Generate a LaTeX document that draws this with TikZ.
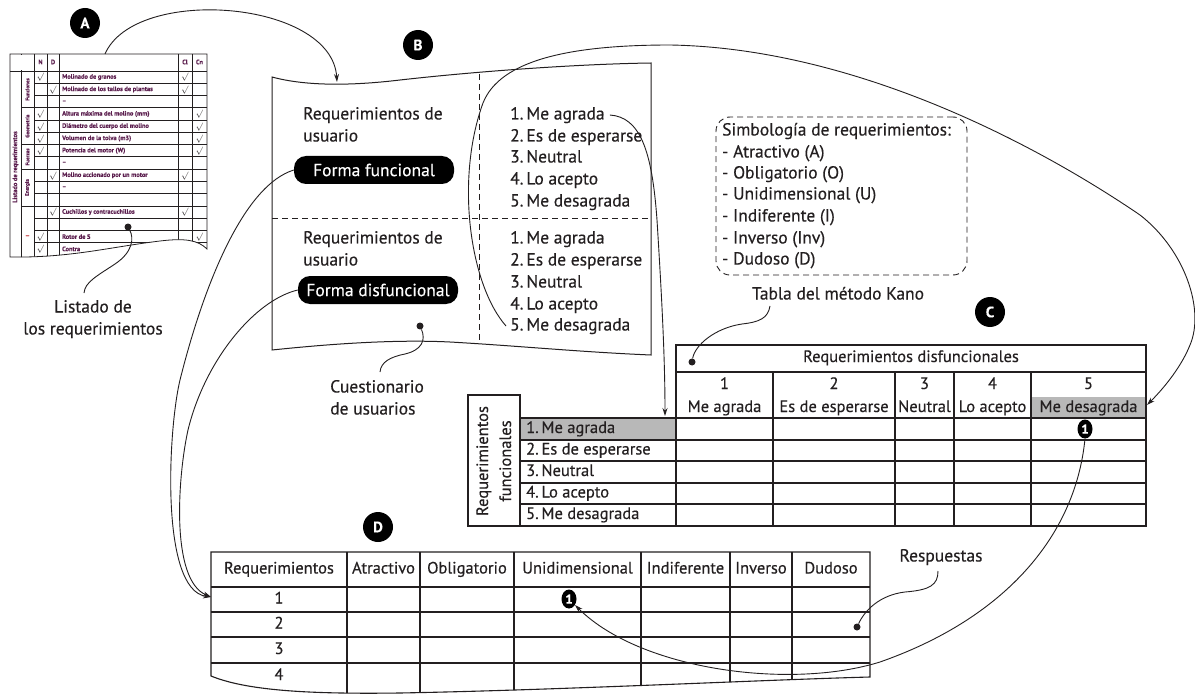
\documentclass[tikz,border=0pt]{standalone}
\usepackage{fontspec}
\setmainfont{PT Sans}[FakeBold=0.35]
\usetikzlibrary{arrows.meta,shapes.geometric}
\definecolor{ink}{HTML}{231F20}
\definecolor{listink}{HTML}{5C1F4F}
\definecolor{cellgray}{HTML}{B8B8B8}
\definecolor{catred}{HTML}{C0282E}
\tikzset{
  conn/.style={draw=ink, line width=0.9pt},
  arr/.style={conn, -{Stealth[length=8pt,width=5pt]}},
  rule/.style={draw=ink, line width=1.1pt},
  thinrule/.style={draw=ink, line width=0.8pt},
  lbl/.style={text=ink, inner sep=0pt, text height=12pt, text depth=3pt, font=\fontsize{17.5}{20}\selectfont},
  tcell/.style={text=ink, inner sep=0pt, text height=11pt, text depth=3pt, font=\fontsize{16.5}{18}\selectfont},
  tinytxt/.style={text=listink, inner sep=0pt, font=\fontsize{6.4}{7}\selectfont\bfseries},
  ticktxt/.style={text=ink, inner sep=0pt, font=\fontsize{8.5}{8.5}\selectfont},
  badge/.style={circle, fill=black, text=white, minimum size=30pt, inner sep=0pt, font=\fontsize{15}{15}\selectfont\bfseries},
  pill/.style={rounded corners=12pt, fill=black, text=white, minimum width=160pt, minimum height=28pt, inner sep=0pt, font=\fontsize{17.5}{20}\selectfont},
  dotmark/.style={circle, fill=ink, minimum size=7pt, inner sep=0pt},
  onebadge/.style={ellipse, fill=black, text=white, minimum width=15pt, minimum height=19pt, inner sep=0pt, font=\fontsize{13}{13}\selectfont\bfseries},
  dashline/.style={conn, dash pattern=on 6pt off 4pt},
}
\begin{document}
\begin{tikzpicture}[x=1pt,y=-1pt]
\useasboundingbox (0,0) rectangle (1195,698);
\fill[white] (0,0) rectangle (1195,698);

% ===== A: requirement list =====
\node[badge] (bA) at (85,23) {A};
\begin{scope}
  \clip (10,54) -- (207,54) -- (207,249) .. controls (198,240) and (185,238) .. (160,241) .. controls (110,247) and (70,258) .. (10,257) -- cycle;
  \draw[thinrule] (10,71) -- (207,71);
  \foreach \x in {21,34,47,59,178,192} \draw[thinrule] (\x,54) -- (\x,262);
  \draw[thinrule, draw=white, line width=1.2pt] (21,55) -- (21,70.5);
  \foreach \i in {1,...,14} \draw[thinrule] (34,{71+12.27*\i}) -- (207,{71+12.27*\i});
  \foreach \i in {3,6,8,11} \draw[thinrule] (21,{71+12.27*\i}) -- (34,{71+12.27*\i});
\end{scope}
\draw[thinrule] (10,54) -- (207,54) -- (207,249) .. controls (198,240) and (185,238) .. (160,241) .. controls (110,247) and (70,258) .. (10,257) -- cycle;

\node[tinytxt] (hN) at (40.5,62) {N};
\node[tinytxt] (hD) at (53,62) {D};
\node[tinytxt] (hCl) at (185,62) {Cl};
\node[tinytxt] (hCn) at (199.5,62) {Cn};
\foreach \r/\t in {1/Molinado de granos, 2/Molinado de los tallos de plantas, 3/--, 4/Altura máxima del molino (mm), 5/Diámetro del cuerpo del molino, 6/Volumen de la tolva (m3), 7/Potencia del motor (W), 8/--, 9/Molino accionado por un motor, 10/--, 12/Cuchillos y contracuchillos, 14/Rotor de S, 15/Contra}
  \node[tinytxt, anchor=west] (desc\r) at (62,{71+12.27*(\r-0.5)}) {\t};
\foreach \r in {1,4,5,6,7,14,15} \node[ticktxt] (ckN\r) at (40.5,{71.5+12.27*(\r-0.5)}) {$\surd$};
\foreach \r in {2,9,12} \node[ticktxt] (ckD\r) at (53,{71.5+12.27*(\r-0.5)}) {$\surd$};
\foreach \r in {1,2,9,12} \node[ticktxt] (ckCl\r) at (185,{71.5+12.27*(\r-0.5)}) {$\surd$};
\foreach \r in {4,5,6,7,14} \node[ticktxt] (ckCn\r) at (199.5,{71.5+12.27*(\r-0.5)}) {$\surd$};
\node[tinytxt, rotate=90, font=\fontsize{6.4}{6.4}\selectfont\bfseries] (listTitle) at (15.5,167) {Listado de requerimientos};
\node[tinytxt, rotate=90, font=\fontsize{5.2}{5.2}\selectfont\bfseries] (catF) at (27.5,89.4) {Funciones};
\node[tinytxt, rotate=90, font=\fontsize{5.2}{5.2}\selectfont\bfseries] (catG) at (27.5,126.2) {Geometría};
\node[tinytxt, rotate=90, font=\fontsize{5.2}{5.2}\selectfont\bfseries] (catU) at (27.5,156.9) {Fuerzas};
\node[tinytxt, rotate=90, font=\fontsize{5.2}{5.2}\selectfont\bfseries] (catE) at (27.5,187.6) {Energía};
\node[text=catred, inner sep=0pt, font=\fontsize{7}{7}\selectfont\bfseries] (catX) at (27.5,236.6) {--};

\node[dotmark] (lstDot) at (128,227) {};
\node[lbl] (lst1) at (93,308) {Listado de};
\node[lbl] (lst2) at (93,330) {los requerimientos};
\coordinate (lstTip) at (84,293);
\draw[conn] (lstDot) .. controls (134,238) and (133,252) .. (115,264) .. controls (97,276) and (85,282) .. (lstTip);

% ===== B: user questionnaire =====
\node[badge] (bB) at (418,45) {B};
\draw[line width=1pt, draw=ink] (272,77) .. controls (305,86) and (350,86) .. (400,80) .. controls (480,71) and (580,64) .. (651,63) -- (651,355) .. controls (580,352) and (520,346) .. (450,342) .. controls (390,339) and (320,345) .. (272,350) -- cycle;
\draw[dashline] (479,74) -- (479,342);
\draw[dashline] (272,218) -- (651,218);

\node[lbl, anchor=west] (rq1a) at (303,115) {Requerimientos de};
\node[lbl, anchor=west] (rq1b) at (303,137) {usuario};
\node[pill] (formF) at (374,170) {Forma funcional};
\node[lbl, anchor=west] (rq2a) at (303,239) {Requerimientos de};
\node[lbl, anchor=west] (rq2b) at (303,261) {usuario};
\node[pill] (formD) at (378,290) {Forma disfuncional};

\foreach \k/\t/\y in {1/Me agrada/115, 2/Es de esperarse/137, 3/Neutral/158, 4/Lo acepto/180, 5/Me desagrada/202}
  \node[lbl, anchor=west] (qF\k) at (510,\y) {\k.\,\t};
\foreach \k/\t/\y in {1/Me agrada/239, 2/Es de esperarse/261, 3/Neutral/283, 4/Lo acepto/305, 5/Me desagrada/326}
  \node[lbl, anchor=west] (qD\k) at (510,\y) {\k.\,\t};

\node[dotmark] (cuDot) at (420,326) {};
\coordinate (cuTip) at (380,372);
\node[lbl, anchor=west] (cu1) at (330,388) {Cuestionario};
\node[lbl, anchor=west] (cu2) at (330,410) {de usuarios};
\draw[conn] (cuDot) .. controls (426,340) and (422,350) .. (405,354) .. controls (390,357) and (381,362) .. (cuTip);

\coordinate (aTop) at (105,54);
\coordinate (bIn) at (337,82);
\draw[arr] (aTop) .. controls (135,-15) and (332,0) .. (bIn);

% ===== legend =====
\node[dashline, rounded corners=14pt, minimum width=251pt, minimum height=158pt] (legend) at (841.5,196) {};
\node[lbl, anchor=west] (lg0) at (722,131) {Simbología de requerimientos:};
\foreach \k/\t/\y in {1/Atractivo (A)/153, 2/Obligatorio (O)/174, 3/Unidimensional (U)/195, 4/Indiferente (I)/217, 5/Inverso (Inv)/239, 6/Dudoso (D)/260}
  \node[lbl, anchor=west] (lg\k) at (722,\y) {- \t};

\node[lbl] (kano) at (838,295) {Tabla del método Kano};
\coordinate (kanoTip) at (770,306);
\node[dotmark] (kanoDot) at (692,362) {};
\draw[conn] (kanoTip) .. controls (768,318) and (760,322) .. (742,324) .. controls (715,328) and (695,345) .. (kanoDot);

% ===== C: Kano table =====
\node[badge] (bC) at (990,312) {C};
\fill[cellgray] (1031,397) rectangle (1146,418);
\fill[cellgray] (520,418) rectangle (676,440);
\draw[rule] (676,345) rectangle (1146,526);
\draw[rule] (676,372) -- (1146,372);
\foreach \y in {418,440,461,483,504} \draw[rule] (520,\y) -- (1146,\y);
\draw[rule] (468,395) rectangle (520,526);
\draw[rule] (520,526) -- (676,526);
\foreach \x in {773,895,954,1031} \draw[rule] (\x,372) -- (\x,526);

\node[tcell] (cHead) at (911,358) {Requerimientos disfuncionales};
\foreach \k/\t/\x in {1/Me agrada/724.5, 2/Es de esperarse/834, 3/Neutral/924.5, 4/Lo acepto/992.5, 5/Me desagrada/1088.5} {
  \node[tcell] (cNum\k) at (\x,385) {\k};
  \node[tcell] (cLab\k) at (\x,408) {\t};
}
\foreach \k/\t/\y in {1/Me agrada/429, 2/Es de esperarse/450.5, 3/Neutral/472, 4/Lo acepto/493.5, 5/Me desagrada/515}
  \node[tcell, anchor=west] (cRow\k) at (526,\y) {\k.\,\t};
\node[tcell, rotate=90] (cRot1) at (484,461) {Requerimientos};
\node[tcell, rotate=90] (cRot2) at (507,461) {funcionales};
\node[onebadge] (oneC) at (1085,429) {1};

% ===== D: classification table =====
\node[badge] (bD) at (378,527) {D};
\begin{scope}
  \clip (211,552) -- (870,552) -- (870,677) .. controls (760,680) and (560,690) .. (400,693) .. controls (320,694) and (250,692) .. (211,676) -- cycle;
  \foreach \y in {587,612,637,663} \draw[rule] (211,\y) -- (870,\y);
  \foreach \x in {347,420,514,641,730,792} \draw[rule] (\x,552) -- (\x,700);
\end{scope}
\draw[rule] (211,552) -- (870,552) -- (870,677) .. controls (760,680) and (560,690) .. (400,693) .. controls (320,694) and (250,692) .. (211,676) -- cycle;

\foreach \k/\t/\x in {0/Requerimientos/279, 1/Atractivo/383.5, 2/Obligatorio/467, 3/Unidimensional/577.5, 4/Indiferente/685.5, 5/Inverso/761, 6/Dudoso/831}
  \node[tcell] (dHead\k) at (\x,569.5) {\t};
\foreach \k/\y in {1/599.5, 2/624.5, 3/650, 4/676}
  \node[tcell] (dRow\k) at (279,\y) {\k};
\node[onebadge] (oneD) at (569,599) {1};

\node[lbl] (resp) at (941,557) {Respuestas};
\coordinate (respTip) at (938,571);
\node[dotmark] (respDot) at (857,627) {};
\draw[conn] (respTip) .. controls (938,585) and (930,590) .. (905,592) .. controls (880,595) and (865,610) .. (respDot);

% ===== connectors between stages =====
\coordinate (dIn) at (211,597);
\draw[arr] (formF.west) .. controls (245,185) and (205,280) .. (180,380) .. controls (168,430) and (160,590) .. (dIn);
\draw[arr] (formD.west) .. controls (255,300) and (205,360) .. (188,430) .. controls (178,475) and (170,580) .. (dIn);

\coordinate (agOut) at ([xshift=5pt]qF1.east);
\coordinate (cIn) at (665,416);
\draw[arr] (agOut) .. controls (640,117) and (652,150) .. (657,220) .. controls (662,300) and (665,360) .. (cIn);

\coordinate (desOut) at ([xshift=-4pt]qD5.west);
\coordinate (c5In) at (1147,405);
\draw[arr] (desOut) .. controls (470,285) and (455,180) .. (483,103) .. controls (500,60) and (570,45) .. (670,45) .. controls (850,48) and (1030,140) .. (1140,215) .. controls (1185,250) and (1205,310) .. (1190,345) .. controls (1180,370) and (1160,392) .. (c5In);

\draw[arr] (oneC.south) .. controls (1075,540) and (1000,620) .. (880,662) .. controls (790,690) and (640,670) .. (oneD);
\end{tikzpicture}
\end{document}
